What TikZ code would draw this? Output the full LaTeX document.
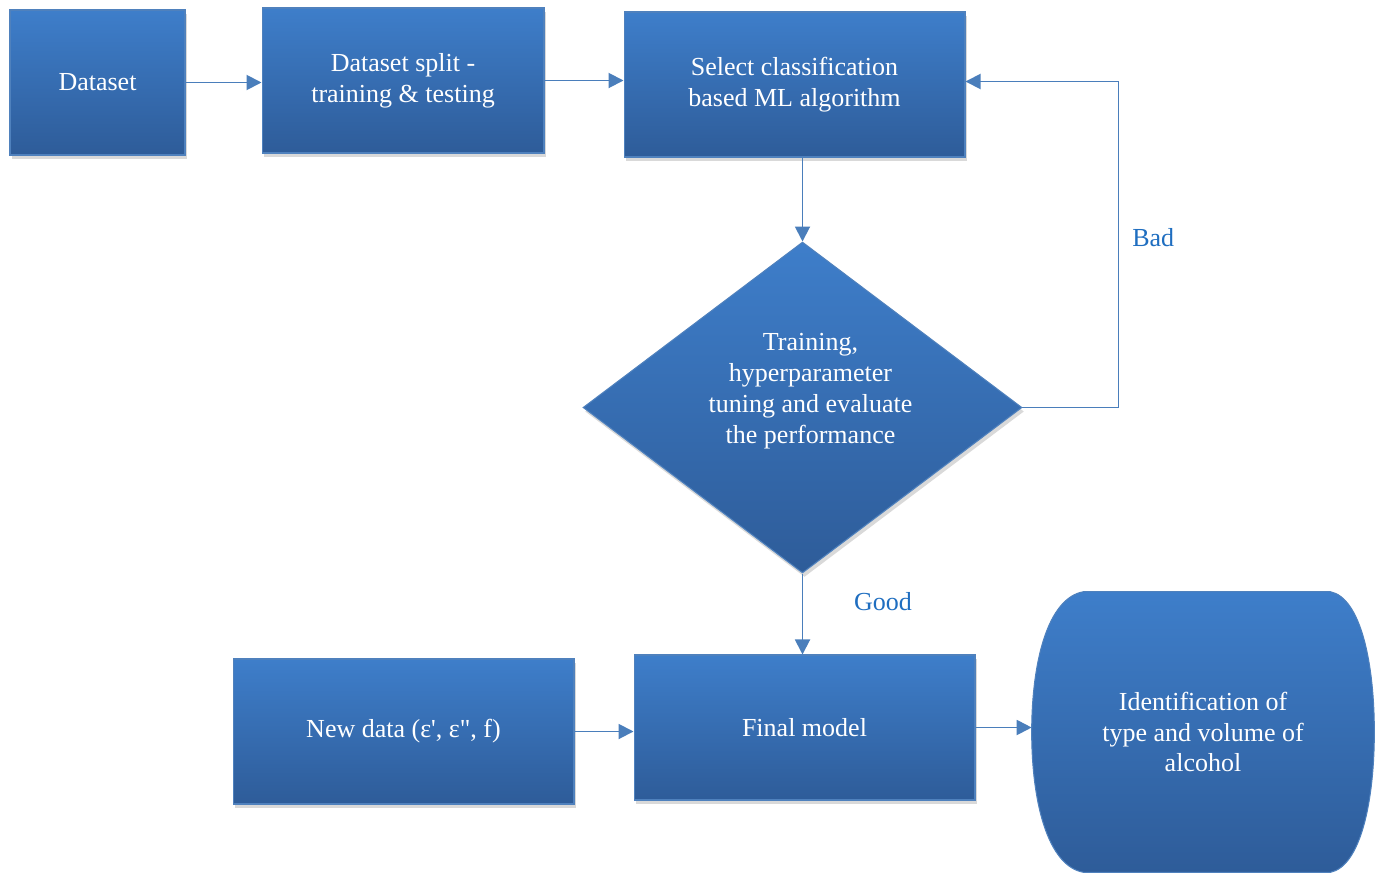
\documentclass[tikz,border=0pt]{standalone}
\usepackage{fontspec}
\setmainfont{Liberation Serif}
\usepackage{tikz}
\usetikzlibrary{calc,shapes.geometric,arrows.meta,shadows,backgrounds}

\definecolor{boxtop}{RGB}{62,126,202}
\definecolor{boxbot}{RGB}{46,92,153}
\definecolor{boxline}{RGB}{79,129,189}
\definecolor{arrowcol}{RGB}{74,126,187}
\definecolor{labelcol}{RGB}{31,110,192}

\begin{document}
\begin{tikzpicture}[x=0.02cm, y=-0.02cm,
    txt/.style={text=white, align=center, font=\fontsize{14.8}{17.6}\selectfont},
    blk/.style={txt, rectangle, draw=boxline, line width=0.6pt, top color=boxtop, bottom color=boxbot, minimum height=2.9cm, drop shadow={shadow xshift=0.04cm, shadow yshift=-0.08cm, opacity=0.3}},
    dec/.style={diamond, draw=boxline, line width=0.6pt, top color=boxtop, bottom color=boxbot, aspect=1.326, minimum width=8.78cm, minimum height=6.62cm, inner sep=0pt, drop shadow={shadow xshift=0.04cm, shadow yshift=-0.08cm, opacity=0.3}},
    cond/.style={text=labelcol, font=\fontsize{14.8}{17.6}\selectfont},
    flow/.style={->, draw=arrowcol, line width=1.1pt},
    >={Triangle[length=0.3cm, width=0.3cm]}]
    \useasboundingbox (0,0) rectangle (1382,872);
    % Nodes
    \node[blk, minimum width=3.5cm] (data) at (97.5,82.5) {Dataset};
    \node[blk, minimum width=5.64cm] (split) at (403,80.5) {Dataset split -\\training \& testing};
    \node[blk, minimum width=6.82cm] (select) at (794.5,84.5) {Select classification\\based ML algorithm};
    \node[dec] (train) at (802.5,407.5) {};
    \node[txt] (traintext) at ($(train.center)+(8,-16)$) {Training,\\hyperparameter\\tuning and evaluate\\the performance};
    \node[blk, minimum width=6.82cm] (new) at (403.5,731.5) {New data (ε\textquotesingle, ε\textquotedbl, f)};
    \node[blk, minimum width=6.82cm] (final) at (804.5,727.5) {Final model};
    \node[txt, minimum width=6.84cm, minimum height=5.6cm] (ident) at (1203,732) {Identification of\\type and volume of\\alcohol};
    \begin{scope}[on background layer]
        \path[draw=boxline, line width=0.6pt, top color=boxtop, bottom color=boxbot]
            ($(ident.north west)+(52,0)$) -- ($(ident.north east)+(-44,0)$)
            .. controls ($(ident.north east)+(-14,6)$) and ($(ident.east)+(0,-70)$) .. (ident.east)
            .. controls ($(ident.east)+(0,70)$) and ($(ident.south east)+(-14,-6)$) .. ($(ident.south east)+(-44,0)$)
            -- ($(ident.south west)+(52,0)$)
            .. controls ($(ident.south west)+(16,-6)$) and ($(ident.west)+(0,70)$) .. (ident.west)
            .. controls ($(ident.west)+(0,-70)$) and ($(ident.north west)+(16,6)$) .. ($(ident.north west)+(52,0)$)
            -- cycle;
    \end{scope}
    % Edges
    \draw[flow] (data.east) -- (data.east -| split.west);
    \draw[flow] (split.east) -- (split.east -| select.west);
    \draw[flow] (select.south -| train.north) -- (train.north);
    \draw[flow] (train.east) -- ++(96,0) |- ($(select.east)+(0,-3)$) node[cond, pos=0.26, right, xshift=4pt] (bad) {Bad};
    \draw[flow] (train.south) -- (train.south |- final.north) node[cond, pos=0.35, right, xshift=25.5pt] (good) {Good};
    \draw[flow] (new.east) -- (new.east -| final.west);
    \draw[flow] (final.east) -- (final.east -| ident.west);
\end{tikzpicture}
\end{document}
